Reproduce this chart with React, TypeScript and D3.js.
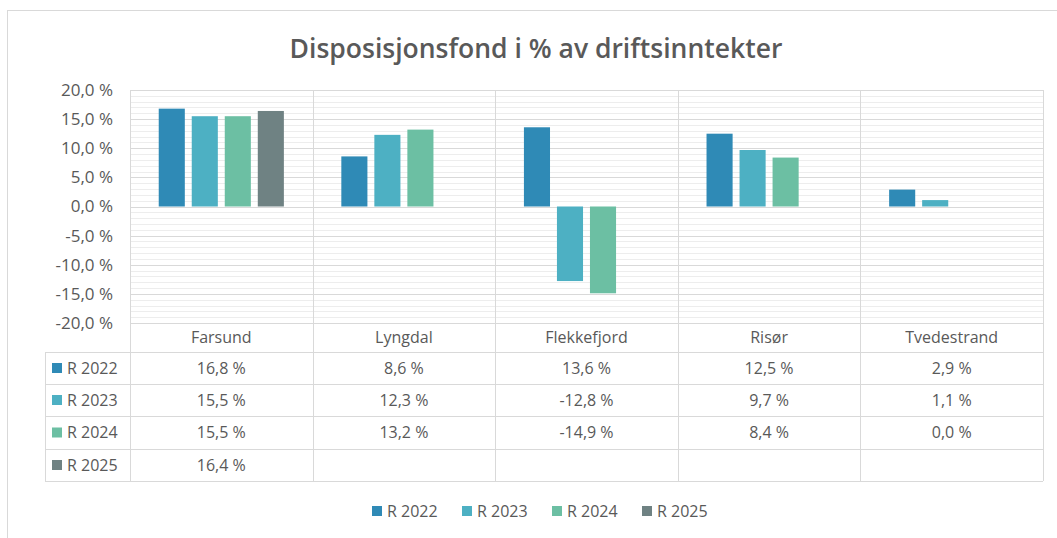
import * as d3 from "d3";
import { useEffect, useRef } from "react";

const categories = ["Farsund", "Lyngdal", "Flekkefjord", "Risør", "Tvedestrand"];
const seriesNames = ["R 2022", "R 2023", "R 2024", "R 2025"];
const r2022 = [16.8, 8.6, 13.6, 12.5, 2.9];
const r2023 = [15.5, 12.3, -12.8, 9.7, 1.1];
const r2024 = [15.5, 13.2, -14.9, 8.4, 0.0];
const r2025 = [16.4, null, null, null, null];
const yTicks = [20, 15, 10, 5, 0, -5, -10, -15, -20];
const colors = ["#2f8ab6", "#4db0c3", "#6cbfa3", "#6f8283"];

const seriesValues = [r2022, r2023, r2024, r2025];

const fmt = (v: number) => v.toFixed(1).replace(".", ",") + " %";

const App = () => {
  const ref = useRef<SVGSVGElement>(null);

  useEffect(() => {
    const svg = d3.select(ref.current);
    svg.selectAll("*").remove();

    const font = "'Open Sans', sans-serif";
    const textColor = "#595959";
    const left = 130,
      right = 1043,
      top = 90,
      bottom = 323,
      tableLeft = 45;
    const rowLines = [352, 384, 416, 449, 481];

    // chart frame
    svg
      .append("rect")
      .attr("x", 7.5)
      .attr("y", 10.5)
      .attr("width", 1060)
      .attr("height", 540)
      .attr("fill", "#fff")
      .attr("stroke", "#d9d9d9");

    // title
    svg
      .append("text")
      .attr("x", 536)
      .attr("y", 58)
      .attr("text-anchor", "middle")
      .style("font-family", font)
      .style("font-size", "26.5px")
      .style("font-weight", 600)
      .style("fill", textColor)
      .text("Disposisjonsfond i % av driftsinntekter");

    const x = d3.scaleBand().domain(categories).range([left, right]);
    const xs = d3
      .scaleBand()
      .domain(seriesNames)
      .range([0, x.bandwidth()])
      .paddingInner(0.21)
      .paddingOuter(0.87);
    const y = d3.scaleLinear().domain([-20, 20]).range([bottom, top]);

    // gridlines
    const g = svg.append("g");
    g.selectAll("line.minor")
      .data(d3.range(-20, 21, 1).filter((d) => d % 5 !== 0))
      .join("line")
      .attr("x1", left)
      .attr("x2", right)
      .attr("y1", (d) => Math.round(y(d)) + 0.5)
      .attr("y2", (d) => Math.round(y(d)) + 0.5)
      .attr("stroke", "#ededed");
    g.selectAll("line.major")
      .data(yTicks)
      .join("line")
      .attr("x1", left)
      .attr("x2", right)
      .attr("y1", (d) => Math.round(y(d)) + 0.5)
      .attr("y2", (d) => Math.round(y(d)) + 0.5)
      .attr("stroke", "#d9d9d9");

    // y labels
    svg
      .append("g")
      .selectAll("text")
      .data(yTicks)
      .join("text")
      .attr("x", 113)
      .attr("y", (d) => y(d))
      .attr("dy", "0.35em")
      .attr("text-anchor", "end")
      .style("font-family", font)
      .style("font-size", "17px")
      .style("fill", textColor)
      .text((d) => fmt(d));

    // table horizontal lines
    svg
      .append("g")
      .selectAll("line")
      .data(rowLines)
      .join("line")
      .attr("x1", tableLeft)
      .attr("x2", right)
      .attr("y1", (d) => d + 0.5)
      .attr("y2", (d) => d + 0.5)
      .attr("stroke", "#d9d9d9");

    // vertical lines
    const vx = categories.map((c) => x(c) as number).concat([right]);
    svg
      .append("g")
      .selectAll("line")
      .data(vx)
      .join("line")
      .attr("x1", (d) => Math.round(d) + 0.5)
      .attr("x2", (d) => Math.round(d) + 0.5)
      .attr("y1", top)
      .attr("y2", rowLines[rowLines.length - 1])
      .attr("stroke", "#d9d9d9");
    svg
      .append("line")
      .attr("x1", tableLeft + 0.5)
      .attr("x2", tableLeft + 0.5)
      .attr("y1", rowLines[0])
      .attr("y2", rowLines[rowLines.length - 1])
      .attr("stroke", "#d9d9d9");

    // bars
    seriesValues.forEach((vals, si) => {
      svg
        .append("g")
        .selectAll("rect")
        .data(vals.map((v, i) => ({ v, c: categories[i] })).filter((d) => d.v !== null && d.v !== 0))
        .join("rect")
        .attr("x", (d) => (x(d.c) as number) + (xs(seriesNames[si]) as number))
        .attr("width", xs.bandwidth())
        .attr("y", (d) => y(Math.max(0, d.v as number)))
        .attr("height", (d) => Math.abs(y(d.v as number) - y(0)))
        .attr("fill", colors[si]);
    });

    // category labels
    svg
      .append("g")
      .selectAll("text")
      .data(categories)
      .join("text")
      .attr("x", (d) => (x(d) as number) + x.bandwidth() / 2)
      .attr("y", (bottom + rowLines[0]) / 2)
      .attr("dy", "0.35em")
      .attr("text-anchor", "middle")
      .style("font-family", font)
      .style("font-size", "16px")
      .style("fill", textColor)
      .text((d) => d);

    // table rows
    seriesNames.forEach((name, si) => {
      const cy = (rowLines[si] + rowLines[si + 1]) / 2;
      const row = svg.append("g");
      row
        .append("rect")
        .attr("x", 52)
        .attr("y", cy - 5)
        .attr("width", 10)
        .attr("height", 10)
        .attr("fill", colors[si]);
      row
        .append("text")
        .attr("x", 67)
        .attr("y", cy)
        .attr("dy", "0.35em")
        .style("font-family", font)
        .style("font-size", "16px")
        .style("fill", textColor)
        .text(name);
      row
        .selectAll("text.val")
        .data(seriesValues[si].map((v, i) => ({ v, c: categories[i] })).filter((d) => d.v !== null))
        .join("text")
        .attr("x", (d) => (x(d.c) as number) + x.bandwidth() / 2)
        .attr("y", cy)
        .attr("dy", "0.35em")
        .attr("text-anchor", "middle")
        .style("font-family", font)
        .style("font-size", "16px")
        .style("fill", textColor)
        .text((d) => fmt(d.v as number));
    });

    // legend
    const legend = svg.append("g").attr("transform", "translate(372, 511)");
    seriesNames.forEach((name, si) => {
      const item = legend.append("g").attr("transform", `translate(${si * 90}, 0)`);
      item
        .append("rect")
        .attr("x", 0)
        .attr("y", -5)
        .attr("width", 10)
        .attr("height", 10)
        .attr("fill", colors[si]);
      item
        .append("text")
        .attr("x", 15)
        .attr("y", 0)
        .attr("dy", "0.35em")
        .style("font-family", font)
        .style("font-size", "16px")
        .style("fill", textColor)
        .text(name);
    });
  }, []);

  return <svg ref={ref} width={1057} height={538} style={{ position: "absolute", left: 0, top: 0 }} />;
};

export default App;
